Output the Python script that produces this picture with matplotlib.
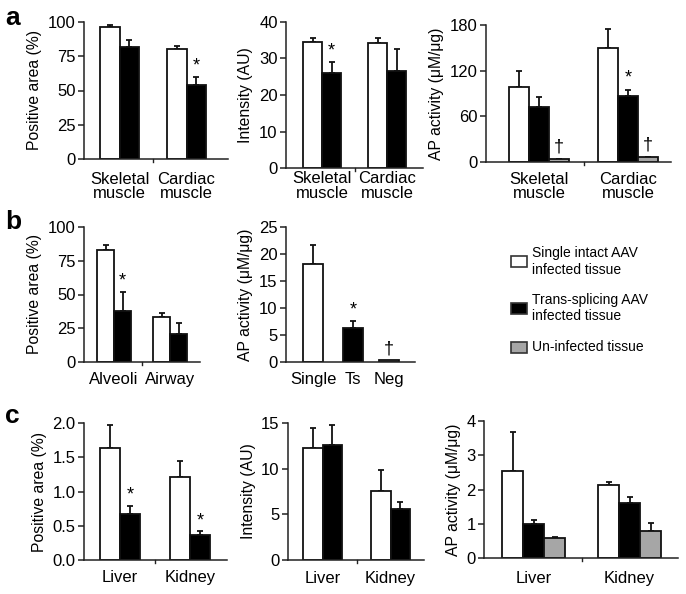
import matplotlib
matplotlib.use("Agg")
import matplotlib.pyplot as plt
from matplotlib.patches import Rectangle
import numpy as np

plt.rcParams['font.family'] = ['Liberation Sans', 'DejaVu Sans']
plt.rcParams['font.size'] = 12

W, H = 686, 594

# ---------------- data ----------------
series_labels = ["Single intact AAV\ninfected tissue", "Trans-splicing AAV\ninfected tissue", "Un-infected tissue"]
series_colors = ["white", "black", "#a6a6a6"]

a_groups = ["Skeletal\nmuscle", "Cardiac\nmuscle"]
a1_vals = [[96.5, 80.0], [82.0, 54.0]]
a1_err = [[1.0, 2.5], [5.0, 6.0]]
a1_marks = [["", ""], ["", "*"]]

a2_vals = [[34.5, 34.3], [26.0, 26.5]]
a2_err = [[1.0, 1.2], [3.0, 6.0]]
a2_marks = [["", ""], ["*", ""]]

a3_vals = [[98.0, 150.0], [72.0, 87.0], [4.0, 7.0]]
a3_err = [[22.0, 25.0], [13.0, 8.0], [0.0, 0.0]]
a3_marks = [["", ""], ["", "*"], ["\u2020", "\u2020"]]

b_groups = ["Alveoli", "Airway"]
b1_vals = [[83.0, 33.0], [38.0, 21.0]]
b1_err = [[4.0, 3.5], [14.0, 8.0]]
b1_marks = [["", ""], ["*", ""]]

b2_cats = ["Single", "Ts", "Neg"]
b2_vals = [18.2, 6.3, 0.4]
b2_err = [3.4, 1.3, 0.0]
b2_marks = ["", "*", "\u2020"]

c_groups = ["Liver", "Kidney"]
c1_vals = [[1.63, 1.21], [0.67, 0.37]]
c1_err = [[0.34, 0.23], [0.12, 0.05]]
c1_marks = [["", ""], ["*", "*"]]

c2_vals = [[12.3, 7.6], [12.6, 5.6]]
c2_err = [[2.2, 2.2], [2.2, 0.7]]
c2_marks = [["", ""], ["", ""]]

c3_vals = [[2.55, 2.13], [0.98, 1.60], [0.57, 0.80]]
c3_err = [[1.12, 0.10], [0.14, 0.18], [0.03, 0.23]]
c3_marks = [["", ""], ["", ""], ["", ""]]

fig = plt.figure(figsize=(W / 100, H / 100), dpi=100)


def make_ax(left, right, top, bottom, xpad):
    ax = fig.add_axes([left / W, 1 - bottom / H, (right - left) / W, (bottom - top) / H])
    ax.set_xlim(0, right - left)
    for s in ["top", "right"]:
        ax.spines[s].set_visible(False)
    for s in ["left", "bottom"]:
        ax.spines[s].set_linewidth(1.1)
        ax.spines[s].set_color("#222222")
    ax.tick_params(axis="y", length=4, width=1.1, pad=2, labelsize=12, color="#222222")
    ax.tick_params(axis="x", length=0, pad=xpad, labelsize=12)
    return ax


def grouped(ax, vals, errs, marks, groups, starts, bw, ymax, yticks, ylabel, mark_off):
    n = len(vals)
    for i in range(n):
        xs = np.array(starts) + bw * (i + 0.5)
        ax.bar(xs, vals[i], width=bw, color=series_colors[i], edgecolor="#111111",
               linewidth=1.3, zorder=2)
        e = np.array(errs[i])
        ax.errorbar(xs, vals[i], yerr=[np.zeros_like(e), e], fmt="none", ecolor="#111111",
                    elinewidth=1.3, capsize=2.5, capthick=1.3, zorder=1)
        for x, v, er, m in zip(xs, vals[i], e, marks[i]):
            if m:
                ax.text(x, v + er + mark_off, m, ha="center", va="bottom", fontsize=13)
    centers = np.array(starts) + bw * n / 2
    ax.set_xticks(centers)
    ax.set_xticklabels(groups, linespacing=0.95)
    ax.set_ylim(0, ymax)
    ax.set_yticks(yticks)
    ax.set_ylabel(ylabel, fontsize=11.3, labelpad=4)
    if len(starts) == 2:
        mid = (starts[0] + bw * n + starts[1]) / 2
        ax.plot([mid, mid], [0, -ymax * 0.02], color="#222222", lw=1, clip_on=False)


# ---- row a ----
ax = make_ax(84, 228, 22, 159, 9)
grouped(ax, a1_vals, a1_err, a1_marks, a_groups, [16, 83], 19.5, 100, [0, 25, 50, 75, 100],
        "Positive area (%)", 1.5)
ax = make_ax(286, 423, 22, 168, 2.5)
grouped(ax, a2_vals, a2_err, a2_marks, a_groups, [17, 82], 19, 40, [0, 10, 20, 30, 40],
        "Intensity (AU)", 0.6)
ax = make_ax(486, 671, 25, 162, 7)
grouped(ax, a3_vals, a3_err, a3_marks, a_groups, [23, 112], 20, 180, [0, 60, 120, 180],
        "AP activity (\u03bcM/\u03bcg)", 4)

# ---- row b ----
ax = make_ax(84, 200, 227, 362, 7)
grouped(ax, b1_vals, b1_err, b1_marks, b_groups, [13, 69], 17, 100, [0, 25, 50, 75, 100],
        "Positive area (%)", 1.5)

ax = make_ax(286, 415, 227, 362, 7)
b2_x = np.array([27, 67, 103])
for x, v, e, m, c in zip(b2_x, b2_vals, b2_err, b2_marks, series_colors):
    ax.bar(x, v, width=20, color=c, edgecolor="#111111", linewidth=1.3, zorder=2)
    if e > 0:
        ax.errorbar(x, v, yerr=[[0], [e]], fmt="none", ecolor="#111111", elinewidth=1.3,
                    capsize=2.5, capthick=1.3, zorder=1)
    if m:
        ax.text(x, v + e + 0.4, m, ha="center", va="bottom", fontsize=13)
ax.set_xticks(b2_x)
ax.set_xticklabels(b2_cats)
ax.set_ylim(0, 25)
ax.set_yticks([0, 5, 10, 15, 20, 25])
ax.set_ylabel("AP activity (\u03bcM/\u03bcg)", fontsize=11.3, labelpad=4)

# ---- row c ----
ax = make_ax(84, 227, 423, 560, 7)
grouped(ax, c1_vals, c1_err, c1_marks, c_groups, [16, 86], 20, 2.0, [0.0, 0.5, 1.0, 1.5, 2.0],
        "Positive area (%)", 0.03)
ax.set_yticklabels(["0.0", "0.5", "1.0", "1.5", "2.0"])
ax = make_ax(288, 424, 423, 560, 8)
grouped(ax, c2_vals, c2_err, c2_marks, c_groups, [15, 83], 19.5, 15, [0, 5, 10, 15],
        "Intensity (AU)", 0.3)
ax = make_ax(484, 678, 421, 558, 9.5)
grouped(ax, c3_vals, c3_err, c3_marks, c_groups, [18, 114], 21, 4, [0, 1, 2, 3, 4],
        "AP activity (\u03bcM/\u03bcg)", 0.08)

# ---- panel letters ----
for lab, (x, y) in zip(["a", "b", "c"], [(5, 6), (5, 210), (5, 404)]):
    fig.text(x / W, 1 - y / H, lab, fontsize=19, fontweight="bold", va="top", ha="left")

# ---- legend ----
leg_y = [261.5, 308, 347]
for lab, c, y in zip(series_labels, series_colors, leg_y):
    fig.patches.append(Rectangle((511 / W, 1 - (y + 5.5) / H), 16 / W, 11 / H,
                                 transform=fig.transFigure, facecolor=c,
                                 edgecolor="#333333", linewidth=1.2))
    fig.text(532 / W, 1 - y / H, lab, fontsize=10, va="center", ha="left", linespacing=1.25)

fig.savefig("out.png", dpi=100)
